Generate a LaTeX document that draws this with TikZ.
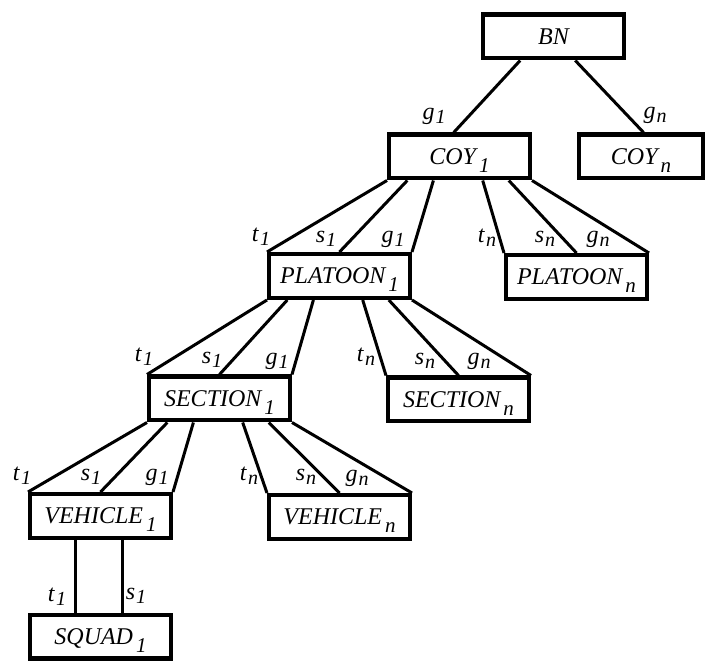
\documentclass[tikz,border=0pt]{standalone}
\usepackage{fontspec}
\setmainfont{Liberation Serif}
\usetikzlibrary{calc}

\newcommand{\nm}[2]{\textit{#1}\kern1.5pt\raisebox{-4pt}{\fontsize{10.5}{10.5}\selectfont\itshape #2}}
\newcommand{\lb}[2]{\textit{#1}\kern0.5pt\raisebox{-2pt}{\fontsize{10}{10}\selectfont\itshape #2}}

\tikzset{
  unitbox/.style={draw, line width=2.2pt, minimum width=70.3pt, minimum height=21.8pt,
    inner sep=0pt, text height=7.9pt, text depth=0pt, font=\fontsize{12}{14}\selectfont\itshape},
  link/.style={line width=1.5pt},
  lab/.style={inner sep=0pt, font=\fontsize{12}{14}\selectfont}
}

\begin{document}
\begin{tikzpicture}[x=0.5pt, y=-0.5pt]
  \useasboundingbox (0,0) rectangle (712,662);
  % Units
  \node[unitbox] (bn) at (553.5,36.5) {BN};
  \node[unitbox] (coy1) at (459.5,156.5) {\nm{COY}{1}};
  \node[unitbox, minimum width=61.8pt] (coyn) at (641,156.5) {\nm{COY}{n}};
  \node[unitbox] (plt1) at (339.5,276) {\nm{PLATOON}{1}};
  \node[unitbox] (pltn) at (576.5,277) {\nm{PLATOON}{n}};
  \node[unitbox] (sec1) at (219.5,398.5) {\nm{SECTION}{1}};
  \node[unitbox] (secn) at (458.5,399.5) {\nm{SECTION}{n}};
  \node[unitbox] (veh1) at (100.5,516) {\nm{VEHICLE}{1}};
  \node[unitbox] (vehn) at (339.5,517) {\nm{VEHICLE}{n}};
  \node[unitbox] (sqd1) at (100.5,636.5) {\nm{SQUAD}{1}};
  % Battalion to companies
  \draw[link] ($(bn.south west)!.27!(bn.south east)$) -- ($(coy1.north west)!.46!(coy1.north east)$);
  \draw[link] ($(bn.south west)!.65!(bn.south east)$) -- ($(coyn.north west)!.52!(coyn.north east)$);
  \node[lab] (g-coy1) at (434,116) {\lb{g}{1}};
  \node[lab] (g-coyn) at (655,115) {\lb{g}{n}};
  % Company to platoons
  \draw[link] (coy1.south west) -- (plt1.north west);
  \draw[link] ($(coy1.south west)!.14!(coy1.south east)$) -- (plt1.north);
  \draw[link] ($(coy1.south west)!.32!(coy1.south east)$) -- (plt1.north east);
  \draw[link] ($(coy1.south west)!.66!(coy1.south east)$) -- (pltn.north west);
  \draw[link] ($(coy1.south west)!.84!(coy1.south east)$) -- (pltn.north);
  \draw[link] (coy1.south east) -- (pltn.north east);
  \node[lab] (t-plt1) at (261,237) {\lb{t}{1}};
  \node[lab] (s-plt1) at (326,239) {\lb{s}{1}};
  \node[lab] (g-plt1) at (393,239) {\lb{g}{1}};
  \node[lab] (t-pltn) at (487,238) {\lb{t}{n}};
  \node[lab] (s-pltn) at (545,239) {\lb{s}{n}};
  \node[lab] (g-pltn) at (598,239) {\lb{g}{n}};
  % Platoon to sections
  \draw[link] (plt1.south west) -- (sec1.north west);
  \draw[link] ($(plt1.south west)!.14!(plt1.south east)$) -- (sec1.north);
  \draw[link] ($(plt1.south west)!.32!(plt1.south east)$) -- (sec1.north east);
  \draw[link] ($(plt1.south west)!.66!(plt1.south east)$) -- (secn.north west);
  \draw[link] ($(plt1.south west)!.84!(plt1.south east)$) -- (secn.north);
  \draw[link] (plt1.south east) -- (secn.north east);
  \node[lab] (t-sec1) at (144,357) {\lb{t}{1}};
  \node[lab] (s-sec1) at (212,360) {\lb{s}{1}};
  \node[lab] (g-sec1) at (277,361) {\lb{g}{1}};
  \node[lab] (t-secn) at (366,357) {\lb{t}{n}};
  \node[lab] (s-secn) at (425,361) {\lb{s}{n}};
  \node[lab] (g-secn) at (479,361) {\lb{g}{n}};
  % Section to vehicles
  \draw[link] (sec1.south west) -- (veh1.north west);
  \draw[link] ($(sec1.south west)!.14!(sec1.south east)$) -- (veh1.north);
  \draw[link] ($(sec1.south west)!.32!(sec1.south east)$) -- (veh1.north east);
  \draw[link] ($(sec1.south west)!.66!(sec1.south east)$) -- (vehn.north west);
  \draw[link] ($(sec1.south west)!.84!(sec1.south east)$) -- (vehn.north);
  \draw[link] (sec1.south east) -- (vehn.north east);
  \node[lab] (t-veh1) at (22,476) {\lb{t}{1}};
  \node[lab] (s-veh1) at (91,477) {\lb{s}{1}};
  \node[lab] (g-veh1) at (157,477) {\lb{g}{1}};
  \node[lab] (t-vehn) at (249,476) {\lb{t}{n}};
  \node[lab] (s-vehn) at (306,477) {\lb{s}{n}};
  \node[lab] (g-vehn) at (357,478) {\lb{g}{n}};
  % Vehicle to squad
  \draw[link] ($(veh1.south west)!.33!(veh1.south east)$) -- ($(sqd1.north west)!.33!(sqd1.north east)$);
  \draw[link] ($(veh1.south west)!.655!(veh1.south east)$) -- ($(sqd1.north west)!.655!(sqd1.north east)$);
  \node[lab] (t-sqd1) at (57,597) {\lb{t}{1}};
  \node[lab] (s-sqd1) at (136,596) {\lb{s}{1}};
\end{tikzpicture}
\end{document}
